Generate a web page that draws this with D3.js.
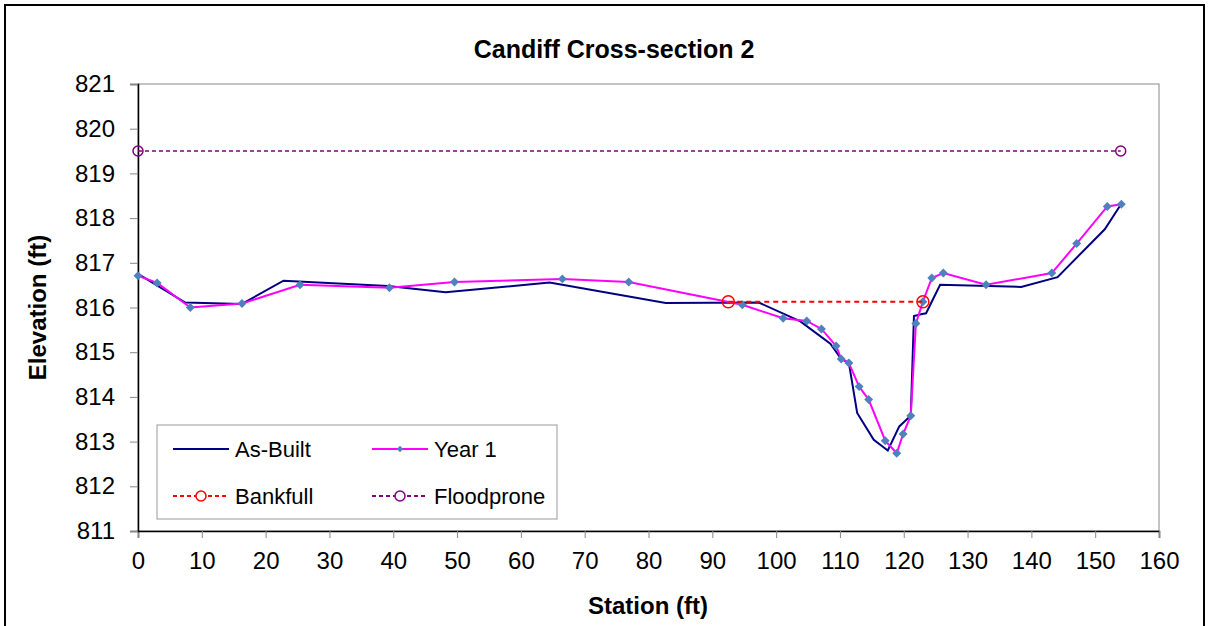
<!DOCTYPE html>
<html>
<head>
<meta charset="utf-8">
<style>
  body { margin: 0; background: #fff; }
  svg { font-family: 'Liberation Sans', Arial, sans-serif; }
</style>
</head>
<body>
<svg width="1209" height="626"></svg>
<script src="https://d3js.org/d3.v7.min.js"></script>
<script>
// As-Built survey (station ft, elevation ft)
let asBuiltStation = [0, 7.4, 16.3, 22.8, 39.2, 48.2, 64.5, 82.7, 97.3, 103.8, 108.5, 110.2, 111.4, 112.7, 115.3, 117.5, 119.3, 121.1, 121.6, 122.7, 123.5, 125.7, 138.4, 144.1, 151.5, 154.0]
let asBuiltElev = [816.75, 816.11, 816.08, 816.60, 816.48, 816.34, 816.56, 816.10, 816.11, 815.69, 815.19, 814.85, 814.76, 813.64, 813.04, 812.80, 813.34, 813.58, 815.81, 815.85, 815.87, 816.51, 816.46, 816.68, 817.75, 818.30]

// Year 1 survey
let year1Station = [0, 3.0, 8.2, 16.3, 25.4, 39.4, 49.6, 66.5, 76.9, 94.7, 101.1, 104.8, 107.1, 109.4, 110.2, 111.4, 113.0, 114.5, 117.1, 118.9, 119.9, 121.1, 121.9, 123.0, 124.4, 126.2, 132.9, 143.2, 147.1, 151.9, 154.1]
let year1Elev = [816.71, 816.55, 816.0, 816.09, 816.51, 816.44, 816.57, 816.64, 816.57, 816.06, 815.76, 815.70, 815.52, 815.14, 814.85, 814.76, 814.23, 813.94, 813.02, 812.74, 813.17, 813.58, 815.64, 816.13, 816.66, 816.77, 816.51, 816.77, 817.43, 818.26, 818.31]

let bankfullStation = [92.5, 123.0]
let bankfullElev = [816.13, 816.13]
let floodStation = [0, 154]
let floodElev = [819.5, 819.5]

let xTicks = d3.range(0, 161, 10)
let yTicks = d3.range(811, 822, 1)

let svg = d3.select("svg")
let margin = { top: 84, right: 50, bottom: 95, left: 138 }
let width = 1209, height = 626

// outer chart frame
svg.append("rect")
  .attr("x", 5).attr("y", 5)
  .attr("width", 1199).attr("height", 630)
  .attr("fill", "none").attr("stroke", "#000").attr("stroke-width", 2)

let x = d3.scaleLinear().domain([0, 160]).range([margin.left, width - margin.right])
let y = d3.scaleLinear().domain([811, 821]).range([height - margin.bottom, margin.top])

// plot area border (top/right grey)
svg.append("rect")
  .attr("x", x(0)).attr("y", y(821))
  .attr("width", x(160) - x(0)).attr("height", y(811) - y(821))
  .attr("fill", "none").attr("stroke", "#888").attr("stroke-width", 1)

let xAxis = svg.append("g")
  .attr("transform", `translate(0,${y(811)})`)
  .call(d3.axisBottom(x).tickValues(xTicks).tickSize(7).tickPadding(14))
xAxis.select(".domain").attr("stroke", "#000").attr("stroke-width", 1.5)
xAxis.selectAll(".tick line").attr("stroke", "#888")
xAxis.selectAll("text").attr("font-size", 24).attr("fill", "#000")

let yAxis = svg.append("g")
  .attr("transform", `translate(${x(0)},0)`)
  .call(d3.axisLeft(y).tickValues(yTicks).tickFormat(d3.format("d")).tickSize(8).tickPadding(15))
yAxis.select(".domain").attr("stroke", "#000").attr("stroke-width", 1.5)
yAxis.selectAll(".tick line").attr("stroke", "#888")
yAxis.selectAll("text").attr("font-size", 24).attr("fill", "#000")

// titles
svg.append("text").attr("x", 614).attr("y", 58).attr("text-anchor", "middle")
  .attr("font-size", 25).attr("font-weight", "bold").text("Candiff Cross-section 2")
svg.append("text").attr("x", 648).attr("y", 614).attr("text-anchor", "middle")
  .attr("font-size", 24).attr("font-weight", "bold").text("Station (ft)")
svg.append("text").attr("transform", `translate(46,${(y(811) + y(821)) / 2}) rotate(-90)`)
  .attr("text-anchor", "middle").attr("font-size", 24).attr("font-weight", "bold").text("Elevation (ft)")

let line = d3.line().x(d => x(d[0])).y(d => y(d[1]))
let asBuilt = asBuiltStation.map((s, i) => [s, asBuiltElev[i]])
let year1 = year1Station.map((s, i) => [s, year1Elev[i]])
let bankfull = bankfullStation.map((s, i) => [s, bankfullElev[i]])
let flood = floodStation.map((s, i) => [s, floodElev[i]])

svg.append("path").attr("d", line(flood)).attr("fill", "none")
  .attr("stroke", "#800080").attr("stroke-width", 1.5).attr("stroke-dasharray", "4,3")
svg.selectAll(".fp").data(flood).join("circle")
  .attr("cx", d => x(d[0])).attr("cy", d => y(d[1])).attr("r", 5)
  .attr("fill", "none").attr("stroke", "#800080").attr("stroke-width", 1.5)

svg.append("path").attr("d", line(asBuilt)).attr("fill", "none")
  .attr("stroke", "#000080").attr("stroke-width", 2)
svg.append("path").attr("d", line(year1)).attr("fill", "none")
  .attr("stroke", "#ff00ff").attr("stroke-width", 2)

let diamond = d3.symbol().type(d3.symbolSquare).size(40)
svg.selectAll(".y1").data(year1).join("path")
  .attr("transform", d => `translate(${x(d[0])},${y(d[1])}) rotate(45)`)
  .attr("d", diamond).attr("fill", "#4f81bd")

svg.append("path").attr("d", line(bankfull)).attr("fill", "none")
  .attr("stroke", "#ff0000").attr("stroke-width", 2).attr("stroke-dasharray", "5,4")
svg.selectAll(".bf").data(bankfull).join("circle")
  .attr("cx", d => x(d[0])).attr("cy", d => y(d[1])).attr("r", 6)
  .attr("fill", "none").attr("stroke", "#ff0000").attr("stroke-width", 1.5)

// legend
let legend = svg.append("g")
legend.append("rect").attr("x", 157).attr("y", 425).attr("width", 400).attr("height", 94)
  .attr("fill", "#fff").attr("stroke", "#999").attr("stroke-width", 1)

let items = [
  { name: "As-Built", col: 0, row: 0, color: "#000080", dash: null, marker: null },
  { name: "Year 1", col: 1, row: 0, color: "#ff00ff", dash: null, marker: "diamond" },
  { name: "Bankfull", col: 0, row: 1, color: "#ff0000", dash: "4,3", marker: "circle" },
  { name: "Floodprone", col: 1, row: 1, color: "#800080", dash: "4,3", marker: "circle" }
]
items.forEach(it => {
  let lx = 173 + it.col * 199, ly = 449 + it.row * 47
  legend.append("line").attr("x1", lx).attr("x2", lx + 56).attr("y1", ly).attr("y2", ly)
    .attr("stroke", it.color).attr("stroke-width", 2).attr("stroke-dasharray", it.dash)
  if (it.marker === "diamond") {
    legend.append("path").attr("transform", `translate(${lx + 28},${ly}) rotate(45)`)
      .attr("d", d3.symbol().type(d3.symbolSquare).size(20)).attr("fill", "#4f81bd")
  } else if (it.marker === "circle") {
    legend.append("circle").attr("cx", lx + 28).attr("cy", ly).attr("r", 5)
      .attr("fill", "#fff").attr("stroke", it.color).attr("stroke-width", 1.5)
  }
  legend.append("text").attr("x", lx + 62).attr("y", ly + 8)
    .attr("font-size", 22).text(it.name)
})
</script>
</body>
</html>
